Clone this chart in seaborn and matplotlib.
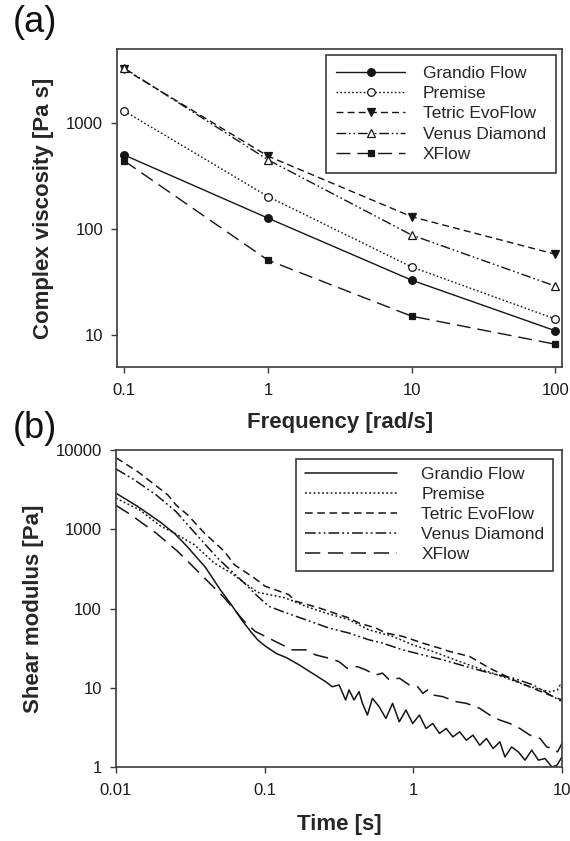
import matplotlib
matplotlib.use("Agg")
import matplotlib.pyplot as plt
from matplotlib.ticker import FixedLocator, FixedFormatter, NullLocator
import seaborn as sns

# ---------------- Panel (a): complex viscosity vs frequency ----------------
freq = [0.1, 1, 10, 100]
grandio_v = [500, 127, 33, 11.0]
premise_v = [1300, 203, 44, 14.2]
tetric_v = [3230, 489, 131, 58]
venus_v = [3300, 451, 88, 29]
xflow_v = [440, 51, 15.1, 8.2]

# ---------------- Panel (b): shear modulus vs time ----------------
grandio_t = [0.01, 0.014, 0.02, 0.025, 0.03, 0.04, 0.05, 0.06, 0.07, 0.08, 0.09, 0.1,
             0.12, 0.14, 0.17, 0.2085, 0.2566, 0.2847, 0.3166, 0.3503, 0.3692, 0.399,
             0.4312, 0.4543, 0.491, 0.5306, 0.5888, 0.6533, 0.7249, 0.8042, 0.8921,
             0.9897, 1.098, 1.218, 1.351, 1.499, 1.663, 1.845, 2.048, 2.271, 2.52,
             2.796, 3.102, 3.441, 3.818, 4.13, 4.58, 5.08, 5.64, 6.25, 6.94, 7.69,
             8.54, 9.23, 10.0]
grandio_g = [2850, 1940, 1220, 870, 610, 330, 175, 110, 72, 52, 40, 34,
             27, 24, 19.5, 15.3, 11.96, 10.3, 10.85, 7.0, 9.38, 7.0,
             8.93, 6.36, 4.52, 7.35, 5.77, 4.10, 6.36, 3.72, 5.23,
             3.54, 4.52, 3.06, 3.54, 2.65, 3.06, 2.40, 2.78, 2.18, 2.52,
             1.88, 2.29, 1.71, 2.08, 1.34, 1.79, 1.55, 1.22, 1.63, 1.22, 1.28,
             1.0, 1.05, 1.34]

premise_t = [0.01, 0.0144, 0.0201, 0.0247, 0.0336, 0.0458, 0.0594, 0.0896, 0.1378,
             0.188, 0.2566, 0.3692, 0.5, 0.7249, 0.9897, 1.351, 2.048, 2.944, 4.24,
             6.09, 8.32, 9.32, 9.72, 10.0]
premise_g = [2466, 1758, 1086, 896, 638, 375, 281, 160, 136,
             107, 87.8, 72.3, 54, 44.5, 34.9, 28.7, 21.4, 16.8, 13.2,
             10.3, 8.9, 9.4, 10.85, 9.84]

tetric_t = [0.01, 0.014, 0.016, 0.0223, 0.0253, 0.0303, 0.0393, 0.0536, 0.0625, 0.085,
            0.1008, 0.145, 0.1608, 0.2313, 0.2703, 0.3692, 0.4312, 0.5591, 0.6533,
            0.847, 1.157, 1.499, 1.752, 2.392, 3.267, 4.70, 6.76, 10.0]
tetric_g = [8000, 5330, 4400, 2716, 2030, 1520, 895, 526, 357, 243,
            191, 150, 124, 102, 92.2, 75.9, 65.6, 56.7, 49,
            44.5, 36.6, 31.6, 28.7, 24.8, 17.6, 12.6, 9.4, 7.0]

venus_t = [0.01, 0.0133, 0.0186, 0.0253, 0.0373, 0.0482, 0.0728, 0.0896, 0.1062,
           0.1306, 0.188, 0.2703, 0.3692, 0.5, 0.62, 0.847, 1.042, 1.579, 2.271,
           3.267, 4.70, 6.41, 8.32, 10.0]
venus_g = [5770, 4200, 2716, 1675, 738, 433, 210, 143, 107,
           92.2, 72.3, 56.7, 49, 40.4, 36.6, 30.1, 27.3, 22.5, 18.5,
           15.3, 13.2, 10.85, 8.1, 6.67]

xflow_t = [0.01, 0.0126, 0.0186, 0.026, 0.0364, 0.0536, 0.0728, 0.0862, 0.1062, 0.1306,
           0.1527, 0.188, 0.2196, 0.2703, 0.3157, 0.3595, 0.4202, 0.4785, 0.5591,
           0.6202, 0.6882, 0.8043, 0.9397, 1.07, 1.157, 1.25, 1.351, 1.579, 1.944,
           2.271, 2.796, 3.267, 3.818, 4.46, 5.21, 6.09, 7.12, 7.89, 8.76, 9.32, 10.0]
xflow_g = [2000, 1520, 895, 526, 281, 136, 69, 51.5, 42.4, 34.9,
           30.1, 30.1, 26.0, 23.6, 21.4, 17.6, 18.5, 16.8, 14.5,
           15.3, 12.6, 13.2, 10.85, 10.3, 8.51, 9.38, 8.11, 7.72, 6.67,
           6.36, 5.50, 4.52, 3.91, 3.54, 3.06, 2.52, 2.29, 1.79, 1.71, 1.55, 1.98]

labels = ["Grandio Flow", "Premise", "Tetric EvoFlow", "Venus Diamond", "XFlow"]
a_ticks_x = [0.1, 1, 10, 100]
a_ticks_y = [10, 100, 1000]
b_ticks_x = [0.01, 0.1, 1, 10]
b_ticks_y = [1, 10, 100, 1000, 10000]

# ---------------- style ----------------
sns.set_style("ticks")
plt.rcParams["font.family"] = ["Liberation Sans", "DejaVu Sans"]
FRAME = "#3a3a3a"
LINE = "#151515"

fig = plt.figure(figsize=(5.7, 8.41), dpi=100)
ax1 = fig.add_axes([0.2058, 0.5636, 0.7807, 0.3781])
ax2 = fig.add_axes([0.2035, 0.0880, 0.7825, 0.3769])

styles = {
    "Grandio Flow": dict(linestyle="-"),
    "Premise": dict(linestyle=(0, (1.2, 1.6))),
    "Tetric EvoFlow": dict(linestyle=(0, (5.0, 3.0))),
    "Venus Diamond": dict(linestyle=(0, (7.0, 2.0, 1.2, 2.0, 1.2, 2.0))),
    "XFlow": dict(linestyle=(0, (10.0, 5.0))),
}
markers = {
    "Grandio Flow": dict(marker="o", markerfacecolor=LINE, markersize=5.5),
    "Premise": dict(marker="o", markerfacecolor="white", markersize=5.5),
    "Tetric EvoFlow": dict(marker="v", markerfacecolor=LINE, markersize=5.5),
    "Venus Diamond": dict(marker="^", markerfacecolor="white", markersize=5.5),
    "XFlow": dict(marker="s", markerfacecolor=LINE, markersize=4.8),
}

for ax in (ax1, ax2):
    ax.set_xscale("log")
    ax.set_yscale("log")

a_vals = [grandio_v, premise_v, tetric_v, venus_v, xflow_v]
for name, vals in zip(labels, a_vals):
    sns.lineplot(x=freq, y=vals, ax=ax1, color=LINE, linewidth=1.0, label=name,
                 markeredgecolor=LINE, markeredgewidth=0.9,
                 **styles[name], **markers[name])

b_series = [(grandio_t, grandio_g), (premise_t, premise_g), (tetric_t, tetric_g),
            (venus_t, venus_g), (xflow_t, xflow_g)]
for name, (ts, gs) in zip(labels, b_series):
    sns.lineplot(x=ts, y=gs, ax=ax2, color=LINE, linewidth=1.1, label=name,
                 **styles[name])

ax1.set_xlim(0.0895, 112)
ax1.set_ylim(5, 5000)
ax2.set_xlim(0.01, 10)
ax2.set_ylim(1, 10000)

def fmt(v):
    return ("%g" % v)

for ax, xt, yt in ((ax1, a_ticks_x, a_ticks_y), (ax2, b_ticks_x, b_ticks_y)):
    ax.xaxis.set_major_locator(FixedLocator(xt))
    ax.xaxis.set_major_formatter(FixedFormatter([fmt(v) for v in xt]))
    ax.yaxis.set_major_locator(FixedLocator(yt))
    ax.yaxis.set_major_formatter(FixedFormatter([fmt(v) for v in yt]))
    ax.xaxis.set_minor_locator(NullLocator())
    ax.yaxis.set_minor_locator(NullLocator())
    ax.tick_params(axis="both", which="major", direction="out", length=4.2,
                   width=1.0, color=FRAME, labelsize=12, labelcolor="#1a1a1a",
                   top=False, right=False)
    ax.tick_params(axis="x", pad=7)
    ax.tick_params(axis="y", pad=6)
    for sp in ax.spines.values():
        sp.set_visible(True)
        sp.set_color(FRAME)
        sp.set_linewidth(1.2)
    ax.set_facecolor("white")

ax1.set_xlabel("Frequency [rad/s]", fontsize=16, fontweight="bold")
ax1.set_ylabel("Complex viscosity [Pa s]", fontsize=16, fontweight="bold")
ax2.set_xlabel("Time [s]", fontsize=16, fontweight="bold")
ax2.set_ylabel("Shear modulus [Pa]", fontsize=16, fontweight="bold")
ax1.xaxis.set_label_coords(0.5, -0.175)
ax1.yaxis.set_label_coords(-0.166, 0.5)
ax2.xaxis.set_label_coords(0.5, -0.183)
ax2.yaxis.set_label_coords(-0.186, 0.5)
for ax in (ax1, ax2):
    ax.xaxis.label.set_verticalalignment("center")
    ax.yaxis.label.set_verticalalignment("center")

leg1 = ax1.legend(loc="upper right", bbox_to_anchor=(0.9865, 0.981), borderaxespad=0,
                  frameon=True, fancybox=False, framealpha=1, edgecolor=FRAME,
                  fontsize=12.5, handlelength=4.0, handletextpad=1.0,
                  labelspacing=0.3, borderpad=0.6, numpoints=1)
leg1.get_frame().set_linewidth(1.2)
leg2 = ax2.legend(loc="upper right", bbox_to_anchor=(0.98, 0.973), borderaxespad=0,
                  frameon=True, fancybox=False, framealpha=1, edgecolor=FRAME,
                  fontsize=12.5, handlelength=5.3, handletextpad=1.4,
                  labelspacing=0.28, borderpad=0.5)
leg2.get_frame().set_linewidth(1.2)

fig.text(0.0228, 0.9727, "(a)", fontsize=26, ha="left", va="center", color="#111111")
fig.text(0.0228, 0.4905, "(b)", fontsize=26, ha="left", va="center", color="#111111")

fig.savefig("out.png", dpi=100, facecolor="white")
